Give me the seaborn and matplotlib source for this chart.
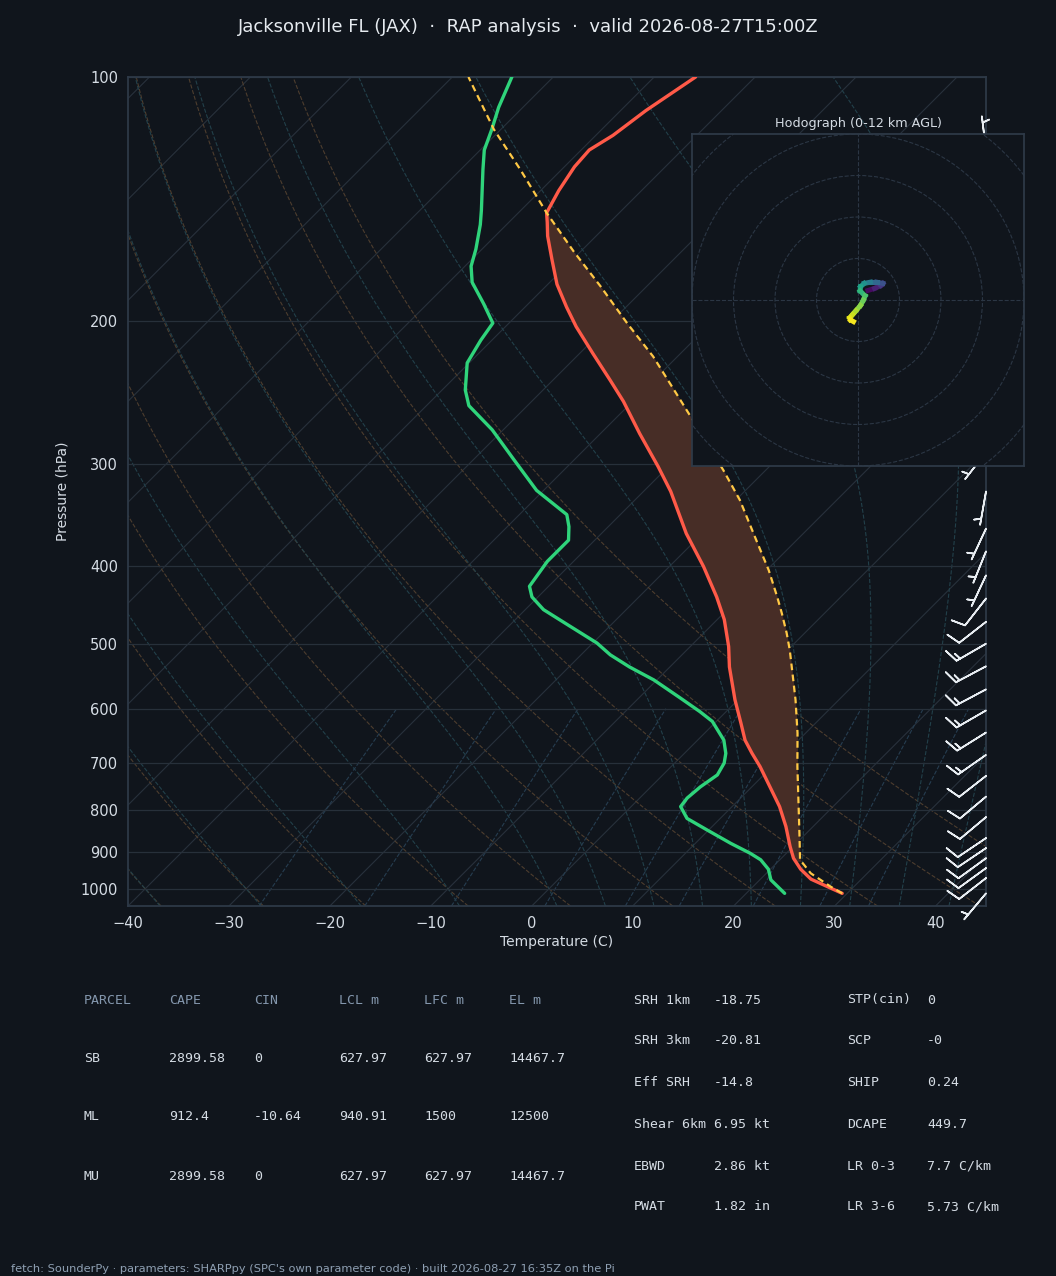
import numpy as np
import seaborn as sns
import matplotlib
matplotlib.use("Agg")
import matplotlib.pyplot as plt
from matplotlib.collections import LineCollection
from matplotlib.patches import Circle
from matplotlib.transforms import blended_transform_factory

# ---- sounding values ----
temp_p = [1013, 973, 946, 917, 887, 838, 792, 749, 707, 681, 656, 625, 585, 533, 503, 466,
          437, 401, 365, 324, 302, 275, 251, 236, 219, 203, 192, 180, 168, 157, 151, 147,
          138, 129, 123, 118, 110, 100]
temp_c = [29.5, 25.0, 23.0, 21.2, 19.7, 17.3, 14.7, 11.8, 8.8, 6.7, 4.7, 2.6, -0.3, -4.1,
          -6.2, -9.3, -12.3, -16.6, -21.6, -27.3, -31.0, -36.1, -40.9, -44.4, -48.7, -53.0,
          -55.9, -59.1, -62.0, -64.8, -66.2, -67.2, -68.2, -69.0, -69.2, -68.3, -67.5, -65.9]

dwpt_p = [1013, 975, 946, 921, 904, 879, 846, 819, 792, 773, 749, 724, 700, 681, 656, 622,
          605, 582, 553, 533, 515, 498, 475, 453, 437, 424, 395, 372, 358, 346, 323, 296,
          272, 254, 243, 225, 211, 201, 190, 179, 171, 163, 152, 146, 130, 123, 116, 109, 100]
dwpt_c = [23.8, 21.1, 19.8, 18.1, 16.4, 13.5, 9.8, 6.7, 4.9, 4.7, 4.9, 5.4, 4.9, 4.1, 2.6,
          -0.4, -2.6, -5.9, -10.3, -14.0, -17.1, -19.6, -23.9, -28.2, -30.6, -31.9, -32.6,
          -32.6, -33.9, -35.3, -40.7, -46.0, -51.1, -55.8, -57.7, -60.2, -61.1, -61.6, -64.5,
          -67.7, -69.4, -70.6, -72.6, -73.9, -77.8, -79.6, -80.9, -82.4, -84.1]

parcel_p = [1013, 994, 957, 921, 854, 777, 707, 643, 585, 543, 508, 484, 458, 437, 405, 372,
            332, 305, 265, 250, 221, 201, 181, 164, 147, 130, 116, 100]
parcel_c = [29.5, 27.7, 24.4, 22.0, 19.3, 15.9, 12.5, 9.2, 5.7, 2.8, 0.2, -1.8, -4.2, -6.3,
            -9.8, -14.0, -19.6, -24.2, -32.1, -35.4, -42.4, -48.3, -54.6, -60.7, -67.2,
            -74.1, -80.7, -88.4]

barb_p = [123, 290, 324, 360, 384, 411, 439, 469, 499, 532, 568, 603, 642, 684, 726, 770,
          816, 866, 891, 917, 943, 970, 1013]
barb_dir = [353, 218, 190, 205, 202, 205, 218, 232, 240, 242, 242, 240, 238, 235, 232, 230,
            230, 236, 236, 234, 234, 232, 220]
barb_spd = [5, 5, 5, 5, 5, 5, 10, 10, 15, 15, 15, 15, 15, 15, 10, 10, 10, 10, 10, 10, 10, 10, 5]

hodo_h = [0, 0.7, 1.5, 2.5, 3.5, 4.5, 5.5, 6.5, 7.5, 8.3, 9.0, 9.6, 10.2, 10.8, 11.3, 11.7, 12.0]
hodo_u = [2.4, 4.0, 5.5, 6.0, 4.5, 3.0, 1.5, 0.6, 0.5, 1.7, 1.3, 0.6, -0.5, -1.3, -2.0, -1.8, -1.1]
hodo_v = [2.3, 2.8, 3.5, 4.0, 4.3, 4.3, 4.0, 3.2, 2.2, 1.0, 0.0, -1.3, -2.6, -3.5, -4.3, -4.8, -5.2]

parcel_cols = ["PARCEL", "CAPE", "CIN", "LCL m", "LFC m", "EL m"]
parcel_rows = [["SB", "2899.58", "0", "627.97", "627.97", "14467.7"],
               ["ML", "912.4", "-10.64", "940.91", "1500", "12500"],
               ["MU", "2899.58", "0", "627.97", "627.97", "14467.7"]]
idx_left = [("SRH 1km", "-18.75"), ("SRH 3km", "-20.81"), ("Eff SRH", "-14.8"),
            ("Shear 6km", "6.95 kt"), ("EBWD", "2.86 kt"), ("PWAT", "1.82 in")]
idx_right = [("STP(cin)", "0"), ("SCP", "-0"), ("SHIP", "0.24"),
             ("DCAPE", "449.7"), ("LR 0-3", "7.7 C/km"), ("LR 3-6", "5.73 C/km")]

title = "Jacksonville FL (JAX)  \u00b7  RAP analysis  \u00b7  valid 2026-08-27T15:00Z"
footer = ("fetch: SounderPy \u00b7 parameters: SHARPpy (SPC's own parameter code) \u00b7 "
          "built 2026-08-27 16:35Z on the Pi")

# ---- style ----
BG = "#10151c"
EDGE = "#2e3a48"
TXT = "#d5dce4"
MUTED = "#8497ad"

sns.set_theme(style="dark", rc={
    "figure.facecolor": BG, "axes.facecolor": BG, "axes.edgecolor": EDGE,
    "text.color": TXT, "axes.labelcolor": TXT, "xtick.color": TXT, "ytick.color": TXT,
    "axes.grid": False, "savefig.facecolor": BG,
})
plt.rcParams["font.family"] = ["DejaVu Sans"]

W, H = 1056, 1276
fig = plt.figure(figsize=(W / 100, H / 100), dpi=100)

ax_px = (128, 77, 986, 906)  # left, top, right, bottom in pixels
ax = fig.add_axes([ax_px[0] / W, 1 - ax_px[3] / H, (ax_px[2] - ax_px[0]) / W,
                   (ax_px[3] - ax_px[1]) / H])

XMIN, XMAX = -40, 45
PBOT, PTOP = 1050, 100
# 45 degree skew in display space
SKEW = (ax_px[3] - ax_px[1]) / (ax_px[2] - ax_px[0]) * (XMAX - XMIN)


def skew(t, p):
    return np.asarray(t) + SKEW * np.log(PBOT / np.asarray(p, dtype=float)) / np.log(PBOT / PTOP)


ax.set_yscale("log")
ax.set_ylim(PBOT, PTOP)
ax.set_xlim(XMIN, XMAX)

pp = np.geomspace(PBOT, PTOP, 120)

# isotherms
for t in range(-130, 50, 10):
    ax.plot(skew(np.full_like(pp, t), pp), pp, color="#28313c", lw=0.8, zorder=1)

# dry adiabats
for t0 in range(-40, 60, 10):
    tt = (t0 + 273.15) * (pp / 1000.0) ** 0.2857 - 273.15
    ax.plot(skew(tt, pp), pp, color="#4d3d2e", lw=0.8, ls="--", zorder=1)


# moist adiabats
def moist_adiabat(t0c):
    Rd, Cp, Lv, eps = 287.04, 1005.7, 2.501e6, 0.622

    def f(p, T):
        es = 6.112 * np.exp(17.67 * (T - 273.15) / (T - 29.65))
        rs = eps * es / (p - es)
        return (Rd * T + Lv * rs) / (p * (Cp + Lv * Lv * rs * eps / (Rd * T * T)))

    def run(plist):
        T = t0c + 273.15
        out = [T]
        for p1, p2 in zip(plist[:-1], plist[1:]):
            h = p2 - p1
            k1 = f(p1, T)
            k2 = f(p1 + h / 2, T + h / 2 * k1)
            k3 = f(p1 + h / 2, T + h / 2 * k2)
            k4 = f(p2, T + h * k3)
            T = T + h / 6 * (k1 + 2 * k2 + 2 * k3 + k4)
            out.append(T)
        return np.array(out)

    up = np.geomspace(1000, PTOP, 150)
    dn = np.geomspace(1000, PBOT, 10)
    tu = run(up)
    td = run(dn)
    p_all = np.concatenate([dn[::-1], up[1:]])
    t_all = np.concatenate([td[::-1], tu[1:]]) - 273.15
    return p_all, t_all


for t0 in list(range(-40, 0, 10)) + list(range(0, 46, 5)):
    mp, mt = moist_adiabat(t0)
    ax.plot(skew(mt, mp), mp, color="#22404a", lw=0.8, ls="--", zorder=1)

# mixing ratio lines
pm = np.geomspace(PBOT, 600, 40)
for w in [0.0004, 0.001, 0.002, 0.004, 0.007, 0.01, 0.016, 0.024, 0.032]:
    e = w * pm / (0.622 + w)
    lg = np.log(e / 6.112)
    td = 243.5 * lg / (17.67 - lg)
    ax.plot(skew(td, pm), pm, color="#263d50", lw=0.8, ls="--", zorder=1)

# pressure grid
ticks_p = [100, 200, 300, 400, 500, 600, 700, 800, 900, 1000]
for p in ticks_p:
    ax.axhline(p, color="#27303a", lw=0.9, zorder=1)

# CAPE shading
pg = np.geomspace(925, 147, 200)
lp = np.log(pg)
t_i = np.interp(lp, np.log(temp_p[::-1]), temp_c[::-1])
pc_i = np.interp(lp, np.log(parcel_p[::-1]), parcel_c[::-1])
ax.fill_betweenx(pg, skew(t_i, pg), skew(pc_i, pg), where=pc_i >= t_i,
                 color="#472d26", lw=0, zorder=2)

# profiles
sns.lineplot(x=skew(temp_c, temp_p), y=temp_p, sort=False, estimator=None, ax=ax,
             color="#ff5a48", lw=2.4, zorder=4)
sns.lineplot(x=skew(dwpt_c, dwpt_p), y=dwpt_p, sort=False, estimator=None, ax=ax,
             color="#2fd47b", lw=2.4, zorder=4)
sns.lineplot(x=skew(parcel_c, parcel_p), y=parcel_p, sort=False, estimator=None, ax=ax,
             color="#ffc845", lw=1.6, ls=(0, (3, 2)), zorder=5)

# wind barbs along the right edge
wd = np.deg2rad(barb_dir)
bu = -np.array(barb_spd) * np.sin(wd)
bv = -np.array(barb_spd) * np.cos(wd)
trans = blended_transform_factory(ax.transAxes, ax.transData)
ax.barbs(np.ones(len(barb_p)), barb_p, bu, bv, transform=trans, clip_on=False,
         color="#e8edf2", lw=1.2, length=7, zorder=6)

ax.set_yticks(ticks_p)
ax.set_yticklabels([str(p) for p in ticks_p])
ax.yaxis.set_minor_locator(matplotlib.ticker.NullLocator())
ax.set_xticks(range(-40, 41, 10))
ax.tick_params(axis="both", labelsize=10.5, length=4, color=TXT, pad=3)
ax.set_xlabel("Temperature (C)", fontsize=10, labelpad=3)
ax.set_ylabel("Pressure (hPa)", fontsize=10, labelpad=8)
for s in ax.spines.values():
    s.set_color(EDGE)

# ---- hodograph inset ----
hx = fig.add_axes([692 / W, 1 - 466 / H, 332 / W, 332 / H])
hx.set_facecolor(BG)
hx.set_xlim(-40, 40)
hx.set_ylim(-40, 40)
for r in range(10, 70, 10):
    hx.add_patch(Circle((0, 0), r, fill=False, ls="--", lw=0.8, color="#2b3644"))
hx.axhline(0, color="#2b3644", ls="--", lw=0.8)
hx.axvline(0, color="#2b3644", ls="--", lw=0.8)
pts = np.column_stack([hodo_u, hodo_v])
segs = np.stack([pts[:-1], pts[1:]], axis=1)
lc = LineCollection(segs, cmap="viridis", lw=3.6, capstyle="projecting")
lc.set_array(np.asarray(hodo_h[:-1]) / 2 + np.asarray(hodo_h[1:]) / 2)
lc.set_clim(0, 12)
hx.add_collection(lc)
hx.set_xticks([-37.5, -25, -12.5, 0, 12.5, 25, 37.5])
hx.set_yticks(range(-40, 41, 10))
hx.tick_params(labelbottom=False, labelleft=False, length=4, color=TXT)
for s in hx.spines.values():
    s.set_color(EDGE)
hx.set_title("Hodograph (0-12 km AGL)", fontsize=9.2, color=TXT, pad=5)

# ---- title, tables, footer ----
fig.text(0.5, 1 - 27 / H, title, ha="center", va="center", fontsize=13, color="#e6ebf0")

mono = "DejaVu Sans Mono"
col_x = [84, 169, 254, 339, 424, 509]
row_y = [1000, 1058, 1117, 1176]
for x, lab in zip(col_x, parcel_cols):
    fig.text(x / W, 1 - row_y[0] / H, lab, family=mono, fontsize=9.5, color=MUTED,
             va="center")
for y, row in zip(row_y[1:], parcel_rows):
    for x, val in zip(col_x, row):
        fig.text(x / W, 1 - y / H, val, family=mono, fontsize=9.5, color=TXT, va="center")

idx_y = [1000, 1041, 1083, 1124, 1166, 1207]
for y, (a, b), (c, d) in zip(idx_y, idx_left, idx_right):
    fig.text(634 / W, 1 - y / H, a, family=mono, fontsize=9.5, color=TXT, va="center")
    fig.text(714 / W, 1 - y / H, b, family=mono, fontsize=9.5, color=TXT, va="center")
    fig.text(847 / W, 1 - y / H, c, family=mono, fontsize=9.5, color=TXT, va="center")
    fig.text(927 / W, 1 - y / H, d, family=mono, fontsize=9.5, color=TXT, va="center")

fig.text(11 / W, 1 - 1269 / H, footer, fontsize=8.2, color="#8fa0b3", va="center")

fig.savefig("out.png", dpi=100, facecolor=BG)
